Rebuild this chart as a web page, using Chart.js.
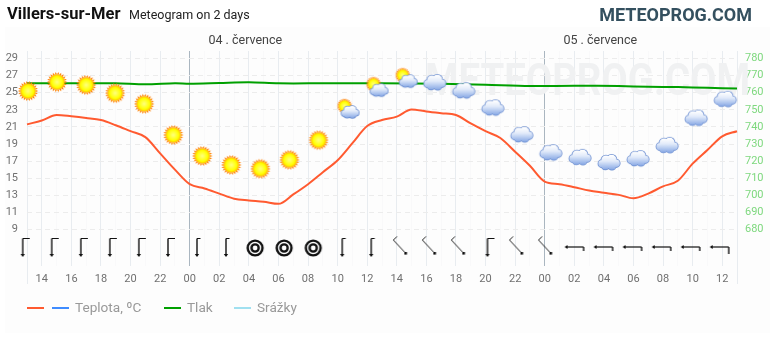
<!DOCTYPE html>
<html><head><meta charset="utf-8">
<script src="https://cdn.jsdelivr.net/npm/chart.js@4"></script>
<style>
html,body{margin:0;padding:0;background:#fff;width:770px;height:340px;overflow:hidden;font-family:Roboto,sans-serif}
#panel{position:absolute;left:5px;top:27px;width:765px;height:306px;background:#fdfdfd}
#wrap{position:absolute;left:0;top:0;width:770px;height:340px}
.t{position:absolute;white-space:nowrap;line-height:1}
.ln{position:absolute;top:307px;width:17px;height:2.4px}
.lg{position:absolute;top:301px;font-size:13.6px;color:#999;line-height:1;white-space:nowrap}
</style></head><body>
<div id="panel"></div>
<div id="wrap"><canvas id="c" width="770" height="340"></canvas></div>
<div class="t" style="left:7px;top:6px;font-size:16.5px;font-weight:700;color:#111">Villers-sur-Mer</div>
<div class="t" style="left:129px;top:9px;font-size:12.5px;color:#222">Meteogram on 2 days</div>
<div class="t" style="right:18px;top:6px;font-size:18px;font-weight:700;color:#34505f">METEOPROG.COM</div>
<div id="legend"></div>
<script>
const tempHours=[13,14,15,16,17,18,19,20,21,22,23,24,25,26,27,28,29,30,31,32,33,34,35,36,37,38,39,40,41,42,43,44,45,46,47,48,49,50,51,52,53,54,55,56,57,58,59,60,61];
const tempValues=[21.3,21.75,22.4,22.25,22.05,21.8,21.2,20.5,19.8,17.9,16.0,14.3,13.8,13.2,12.6,12.4,12.25,12.0,13.1,14.3,15.7,17.1,19.1,21.1,21.8,22.2,23.05,22.8,22.6,22.4,21.4,20.5,19.7,18.1,16.45,14.6,14.3,13.95,13.55,13.3,13.05,12.65,13.2,14.05,14.7,16.7,18.3,19.9,20.5];
const pressureHours=[13,16,19,21,23,24,26,28,30,33,37,41,44,47,50,53,55,57,59,61];
const pressureValues=[765.5,765.5,765.5,764.9,765.5,765.3,765.7,766.1,765.5,765.5,765.5,765.2,764.6,763.9,764.1,763.9,763.5,763.3,762.9,762.4];
const iconHours=[13.07,15.03,17.0,18.96,20.92,22.89,24.85,26.81,28.78,30.74,32.71,34.67,36.63,38.6,40.56,42.52,44.49,46.45,48.41,50.38,52.34,54.3,56.27,58.23,60.2];
const iconValues=[25.2,26.25,25.9,24.95,23.7,20.05,17.6,16.55,16.1,17.15,19.45,23.1,25.65,26.7,26.25,25.3,23.3,20.15,18.05,17.5,16.9,17.35,18.9,22.1,24.3];
const iconKinds=['sun','sun','sun','sun','sun','sun','sun','sun','sun','sun','sun','partly','partly','partly','cloud','cloud','cloud','cloud','cloud','cloud','cloud','cloud','cloud','cloud','cloud'];
const windHours=[12.71,14.67,16.64,18.6,20.56,22.53,24.49,26.45,28.42,30.38,32.35,34.31,36.27,38.24,40.2,42.16,44.13,46.09,48.05,50.02,51.98,53.94,55.91,57.87,59.83];
const windKinds=['downLong','downLong','downLong','downLong','downLong','downLong','downShort','downShort','calm','calm','calm','downShort','downShort','diag','diag','diag','downLong','diag','diag','left','left','left','left','left','leftLong'];
const windLevel=6.84;
const leftTicks=[9,11,13,15,17,19,21,23,25,27,29];
const rightTicks=[680,690,700,710,720,730,740,750,760,770,780];
const hourLabels=['14','16','18','20','22','00','02','04','06','08','10','12','14','16','18','20','22','00','02','04','06','08','10','12'];
const dayNames=['04 . července','05 . července'];
const dayCenters=[27.76,51.76];
const legendItems=[['#ff5a30',27,''],['#3f8cff',52,'Teplota, ºC'],['#00a000',164,'Tlak'],['#a0e0f0',234,'Srážky']];

function mk(w,h,fn){const c=document.createElement('canvas');c.width=w;c.height=h;const g=c.getContext('2d');g.translate(w/2,h/2);fn(g);return c;}
function sun(g,x,y,r){
  g.fillStyle='#ff8000';
  const n=22,ro=r*1.3;
  for(let i=0;i<n;i++){const a=i/n*2*Math.PI,b=0.14;
    g.beginPath();g.moveTo(x+Math.cos(a-b)*r,y+Math.sin(a-b)*r);g.lineTo(x+Math.cos(a)*ro,y+Math.sin(a)*ro);g.lineTo(x+Math.cos(a+b)*r,y+Math.sin(a+b)*r);g.fill();}
  const gr=g.createRadialGradient(x,y,0,x,y,r);
  gr.addColorStop(0,'#ffff80');gr.addColorStop(0.7,'#ffff00');gr.addColorStop(0.92,'#ffc800');gr.addColorStop(1,'#ff9a00');
  g.fillStyle=gr;g.beginPath();g.arc(x,y,r,0,7);g.fill();
}
function cloud(g,x,y,s){
  const p=[[-7,1.2,3.6],[-3,-2.4,4.6],[2.6,-2.8,5],[7,0.8,3.8],[0,0.5,5],[-3.6,3.2,3.8],[3,3.4,3.8]];
  const path=(e)=>{g.beginPath();p.forEach(q=>{g.moveTo(x+q[0]*s+(q[2]*s+e),y+q[1]*s);g.arc(x+q[0]*s,y+q[1]*s,q[2]*s+e,0,7);});};
  g.fillStyle='#6a8dd0';path(0.8);g.fill();
  const gr=g.createLinearGradient(0,y-7*s,0,y+7*s);
  gr.addColorStop(0,'#ffffff');gr.addColorStop(0.4,'#e2ebfa');gr.addColorStop(1,'#8aaae6');
  g.fillStyle=gr;path(0);g.fill();
}
const sky={
  sun:mk(26,26,g=>sun(g,0,0,7.8)),
  cloud:mk(28,26,g=>cloud(g,0,0.5,1)),
  partly:mk(30,28,g=>{sun(g,-3,-3,6);cloud(g,2.5,3.2,0.8);})
};
function wd(fn){return mk(40,30,g=>{g.strokeStyle='#111';g.fillStyle='#111';g.lineWidth=1;fn(g);});}
function seg(g,a,b,c,d){g.beginPath();g.moveTo(a,b);g.lineTo(c,d);g.stroke();}
function downArrow(g,barb){
  g.lineWidth=1.4;seg(g,0,-9.5,0,7);
  g.lineWidth=1;seg(g,0,-9.5,barb,-9.5);
  g.beginPath();g.moveTo(-2.2,6);g.lineTo(2.2,6);g.lineTo(0,9);g.fill();
}
const wind={
  downLong:wd(g=>downArrow(g,7)),
  downShort:wd(g=>downArrow(g,3.5)),
  calm:wd(g=>{g.lineWidth=2.4;g.beginPath();g.arc(0,0,7.4,0,7);g.stroke();g.beginPath();g.arc(0,0,3.6,0,7);g.stroke();}),
  diag:wd(g=>{g.lineWidth=0.9;seg(g,5.3,5.3,-7,-8);seg(g,-7,-8,-3.3,-11.5);g.fillRect(4,4,2.6,2.6);}),
  left:wd(g=>{g.lineWidth=1.2;seg(g,-8.7,-1,9,-1);g.lineWidth=1.4;seg(g,9,-1,9,3);g.beginPath();g.moveTo(-7,-3);g.lineTo(-7,1);g.lineTo(-10,-1);g.fill();}),
  leftLong:wd(g=>{g.lineWidth=1.2;seg(g,-8.7,-1,9,-1);g.lineWidth=1.4;seg(g,9,-1,9,6);g.beginPath();g.moveTo(-7,-3);g.lineTo(-7,1);g.lineTo(-10,-1);g.fill();})
};

const watermark={id:'watermark',beforeDatasetsDraw(ch){const g=ch.ctx;g.save();g.font='700 45px Roboto';g.fillStyle='#f0f1f2';g.textAlign='left';g.textBaseline='alphabetic';g.fillText('METEOPROG.COM',425,95,325);g.restore();}};

const pairs=(xs,ys)=>xs.map((x,i)=>({x,y:ys[i]}));
new Chart(document.getElementById('c'),{
  type:'line',
  plugins:[watermark],
  data:{datasets:[
    {label:'Teplota, ºC',yAxisID:'y',xAxisID:'x',data:pairs(tempHours,tempValues),borderColor:legendItems[0][0],borderWidth:2,pointRadius:0,tension:0.35,cubicInterpolationMode:'monotone',order:3,clip:false},
    {label:'Tlak',yAxisID:'y2',xAxisID:'x',data:pairs(pressureHours,pressureValues),borderColor:legendItems[2][0],borderWidth:2,pointRadius:0,tension:0.3,order:4,clip:false},
    {label:'Srážky',yAxisID:'y2',xAxisID:'x',data:[],borderColor:legendItems[3][0],order:5},
    {label:'Počasí',yAxisID:'y',xAxisID:'x',data:pairs(iconHours,iconValues),showLine:false,pointStyle:iconKinds.map(k=>sky[k]),order:1,clip:false},
    {label:'Vítr',yAxisID:'y',xAxisID:'x',data:windHours.map(x=>({x,y:windLevel})),showLine:false,pointStyle:windKinds.map(k=>wind[k]),order:2,clip:false}
  ]},
  options:{
    responsive:false,animation:false,events:[],
    layout:{padding:0},
    plugins:{legend:{display:false},title:{display:false},tooltip:{enabled:false}},
    scales:{
      x:{type:'linear',position:'bottom',min:13,max:61,
        afterBuildTicks(s){s.ticks=tempHours.map(v=>({value:v}));},
        afterFit(s){s.height=74;},
        border:{display:false},
        grid:{drawTicks:true,tickLength:18,
          color:c=>{const v=c.tick.value;if(v===24||v===48)return '#aab6c0';if(v===13||v===61)return '#e8ecf0';return v%2===0?'#e8ecf0':'#f9f9fa';},
          tickColor:c=>{const v=c.tick&&c.tick.value;return (v===13||v===61)?'#e8ecf0':'rgba(0,0,0,0)';},
          lineWidth:1},
        ticks:{autoSkip:false,maxRotation:0,minRotation:0,padding:-11,color:'#707070',font:{family:'Roboto',size:11},
          callback(v){return (v>13&&v<61&&v%2===0)?hourLabels[(v-14)/2]:'';}}
      },
      xDay:{type:'linear',position:'top',min:13,max:61,
        afterBuildTicks(s){s.ticks=dayCenters.map(v=>({value:v}));},
        afterFit(s){s.height=51;},
        border:{display:false},grid:{display:false,drawTicks:false},
        ticks:{autoSkip:false,maxRotation:0,minRotation:0,padding:3,color:'#444',font:{family:'Roboto',size:12.5},
          callback(v){return dayNames[dayCenters.indexOf(v)];}}
      },
      y:{type:'linear',position:'left',min:4.73,max:29.88,
        afterBuildTicks(s){s.ticks=leftTicks.map(v=>({value:v}));},
        afterFit(s){s.width=27;},
        border:{display:false,dash:[5,4]},
        grid:{drawTicks:false,color:'#ececec',lineWidth:1},
        ticks:{padding:9,color:'#707070',font:{family:'Roboto',size:11},callback:v=>String(v)}
      },
      y2:{type:'linear',position:'right',min:658.65,max:784.4,
        afterBuildTicks(s){s.ticks=rightTicks.map(v=>({value:v}));},
        afterFit(s){s.width=33;},
        border:{display:false},grid:{display:false,drawTicks:false},
        ticks:{padding:8,color:'#7ed87e',font:{family:'Roboto',size:11},callback:v=>String(v)}
      }
    },
    elements:{point:{radius:10}}
  }
});
const lg=document.getElementById('legend');
legendItems.forEach(([col,x,txt])=>{
  const l=document.createElement('div');l.className='ln';l.style.left=x+'px';l.style.background=col;lg.appendChild(l);
  if(txt){const t=document.createElement('div');t.className='lg';t.style.left=(x+23)+'px';t.textContent=txt;lg.appendChild(t);}
});
</script></body></html>
